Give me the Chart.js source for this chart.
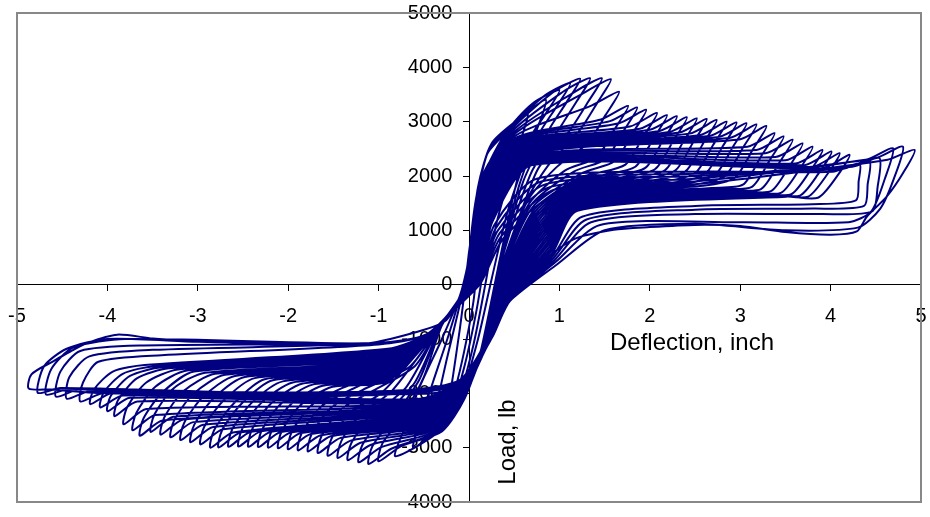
<!DOCTYPE html>
<html lang="en">
<head>
<meta charset="UTF-8">
<title>Load vs Deflection</title>
<script src="https://cdn.jsdelivr.net/npm/chart.js"></script>
<style>
  body { margin: 0; background: #fff; }
  canvas { display: block; }
</style>
</head>
<body>
<canvas id="myChart" width="930" height="517"></canvas>
<script>
// readings per cycle, [deflection (inch), load (lb)]
const cycleS1 = [[0,0],[0.05,1100],[0.15,2000],[0.25,2300],[0.2,1700],[0.12,800],[0.05,-300],[-0.05,-1200],[-0.15,-1900],[-0.22,-2200],[-0.17,-1600],[-0.1,-800],[-0.03,100]];
const cycleS2 = [[0.0,400],[0.08,1500],[0.2,2400],[0.35,2700],[0.45,2850],[0.38,2300],[0.28,1500],[0.18,500],[0.08,-500],[-0.05,-1500],[-0.18,-2200],[-0.32,-2550],[-0.42,-2700],[-0.35,-2150],[-0.25,-1400],[-0.12,-500],[-0.03,200]];
const cycleS3 = [[0.0,600],[0.1,1700],[0.22,2500],[0.45,2900],[0.65,3150],[0.56,2600],[0.45,2000],[0.3,1100],[0.18,0],[0.05,-1100],[-0.1,-2000],[-0.28,-2550],[-0.48,-2850],[-0.62,-3000],[-0.53,-2450],[-0.4,-1800],[-0.22,-900],[-0.08,-100]];
const cycleS4 = [[0.0,500],[0.1,1800],[0.25,2600],[0.55,3050],[0.85,3400],[0.75,2850],[0.6,2200],[0.42,1300],[0.25,100],[0.1,-1000],[-0.08,-2000],[-0.3,-2650],[-0.6,-3000],[-0.82,-3150],[-0.7,-2600],[-0.55,-1900],[-0.3,-1000],[-0.1,-200]];

const cycle01 = [[-0.02,300],[0.10,1750],[0.40,2780],[0.70,3330],[1.00,3580],[0.85,3150],[0.65,2630],[0.5,1700],[0.32,300],
  [0.12,-1300],[-0.05,-2100],[-0.30,-2700],[-0.75,-2970],[-1.00,-3250],[-0.96,-2930],[-0.75,-2450],[-0.5,-1700],[-0.30,-750],[-0.05,-100]];
const cycle02 = [[-0.02,290],[0.11,1750],[0.41,2770],[0.82,3460],[1.12,3710],[0.97,3280],[0.77,2760],[0.55,1800],[0.32,280],
  [0.12,-1290],[-0.05,-2090],[-0.31,-2680],[-0.86,-3020],[-1.11,-3300],[-1.07,-2980],[-0.86,-2500],[-0.55,-1750],[-0.31,-755],[-0.05,-110]];
const cycle03 = [[-0.01,285],[0.12,1720],[0.42,2760],[0.93,3540],[1.23,3790],[1.08,3360],[0.88,2840],[0.6,1900],[0.33,265],
  [0.13,-1275],[-0.05,-2080],[-0.32,-2670],[-0.97,-2990],[-1.22,-3270],[-1.18,-2950],[-0.97,-2470],[-0.6,-1800],[-0.31,-760],[-0.05,-115]];
const cycle04 = [[-0.01,280],[0.12,1700],[0.43,2740],[1.04,3550],[1.34,3800],[1.19,3370],[0.99,2850],[0.7,2100],[0.5,1200],[0.33,245],
  [0.13,-1265],[-0.05,-2070],[-0.33,-2650],[-1.09,-2950],[-1.34,-3230],[-1.30,-2910],[-1.09,-2430],[-0.7,-1900],[-0.32,-765],[-0.06,-125]];
const cycle05 = [[0.0,270],[0.13,1680],[0.44,2720],[1.17,3550],[1.47,3800],[1.32,3370],[1.12,2850],[0.77,2150],[0.6,1450],[0.34,225],
  [0.14,-1255],[-0.05,-2060],[-0.34,-2630],[-1.2,-2910],[-1.45,-3190],[-1.41,-2870],[-1.2,-2390],[-0.85,-1950],[-0.32,-770],[-0.06,-130]];
const cycle06 = [[0.0,265],[0.13,1660],[0.45,2700],[1.27,3530],[1.57,3780],[1.42,3350],[1.22,2830],[0.87,2180],[0.62,1500],[0.34,210],
  [0.14,-1240],[-0.06,-2050],[-0.35,-2610],[-1.31,-2870],[-1.56,-3150],[-1.52,-2830],[-1.31,-2350],[-0.96,-1980],[-0.33,-775],[-0.06,-140]];
const cycle07 = [[0.0,260],[0.14,1640],[0.46,2680],[1.36,3300],[1.66,3550],[1.51,3120],[1.31,2600],[0.96,2150],[0.64,1520],[0.35,190],
  [0.15,-1230],[-0.06,-2040],[-0.36,-2590],[-1.42,-2820],[-1.67,-3100],[-1.63,-2780],[-1.42,-2300],[-1.07,-1960],[-0.6,-1500],[-0.33,-780],[-0.06,-150]];
const cycle08 = [[0.01,250],[0.14,1620],[0.47,2660],[1.46,3040],[1.76,3290],[1.61,2860],[1.41,2340],[1.06,2100],[0.66,1480],[0.35,170],
  [0.15,-1220],[-0.06,-2030],[-0.37,-2570],[-1.53,-2790],[-1.78,-3070],[-1.74,-2750],[-1.53,-2270],[-1.18,-1940],[-0.65,-1500],[-0.34,-785],[-0.06,-155]];
const cycle09 = [[0.01,245],[0.15,1600],[0.48,2640],[1.56,3010],[1.86,3260],[1.71,2830],[1.51,2310],[1.16,2080],[0.68,1450],[0.36,155],
  [0.16,-1205],[-0.06,-2020],[-0.38,-2550],[-1.64,-2770],[-1.89,-3050],[-1.85,-2730],[-1.64,-2250],[-1.29,-1920],[-0.7,-1480],[-0.34,-790],[-0.06,-165]];
const cycle10 = [[0.02,235],[0.15,1580],[0.49,2620],[1.66,2970],[1.96,3220],[1.81,2790],[1.61,2270],[1.26,2060],[0.7,1420],[0.36,135],
  [0.16,-1195],[-0.06,-2010],[-0.39,-2530],[-1.75,-2750],[-2.0,-3030],[-1.96,-2710],[-1.75,-2230],[-1.4,-1900],[-0.75,-1460],[-0.35,-795],[-0.07,-170]];
const cycle11 = [[0.02,230],[0.16,1560],[0.5,2600],[1.78,2910],[2.08,3160],[1.93,2730],[1.73,2210],[1.38,2040],[1.2,1960],[0.72,1380],[0.37,115],
  [0.17,-1185],[-0.06,-2000],[-0.4,-2510],[-1.86,-2730],[-2.11,-3010],[-2.07,-2690],[-1.86,-2210],[-1.51,-1880],[-0.9,-1780],[-0.35,-800],[-0.07,-180]];
const cycle12 = [[0.02,225],[0.16,1540],[0.51,2580],[1.89,2870],[2.19,3120],[2.04,2690],[1.84,2170],[1.49,2020],[1.2,1930],[0.73,1340],[0.37,100],
  [0.17,-1170],[-0.06,-1990],[-0.41,-2490],[-1.97,-2720],[-2.22,-3000],[-2.18,-2680],[-1.97,-2200],[-1.62,-1860],[-0.9,-1750],[-0.36,-805],[-0.07,-190]];
const cycle13 = [[0.03,215],[0.17,1520],[0.52,2560],[2.0,2850],[2.30,3100],[2.15,2670],[1.95,2150],[1.6,2000],[1.2,1900],[0.74,1300],[0.38,80],
  [0.18,-1160],[-0.06,-1980],[-0.42,-2470],[-2.08,-2710],[-2.33,-2990],[-2.29,-2670],[-2.08,-2190],[-1.73,-1840],[-0.9,-1720],[-0.36,-810],[-0.07,-195]];
const cycle14 = [[0.03,210],[0.17,1500],[0.53,2540],[2.11,2830],[2.41,3080],[2.26,2650],[2.06,2130],[1.71,1980],[1.2,1870],[0.75,1260],[0.38,60],
  [0.18,-1150],[-0.06,-1970],[-0.43,-2450],[-2.19,-2705],[-2.44,-2985],[-2.40,-2665],[-2.19,-2185],[-1.84,-1820],[-0.9,-1690],[-0.37,-815],[-0.07,-205]];
const cycle15 = [[0.04,200],[0.18,1480],[0.54,2520],[2.22,2810],[2.52,3060],[2.37,2630],[2.17,2110],[1.82,1960],[1.2,1840],[0.76,1220],[0.39,45],
  [0.19,-1135],[-0.06,-1960],[-0.44,-2430],[-2.3,-2700],[-2.55,-2980],[-2.51,-2660],[-2.3,-2180],[-1.95,-1800],[-0.9,-1660],[-0.37,-820],[-0.07,-210]];
const cycle16 = [[0.04,195],[0.18,1460],[0.55,2500],[2.33,2800],[2.63,3050],[2.48,2620],[2.28,2100],[1.93,1940],[1.2,1810],[0.77,1180],[0.39,25],
  [0.19,-1125],[-0.07,-1950],[-0.45,-2410],[-2.41,-2705],[-2.66,-2985],[-2.62,-2665],[-2.41,-2185],[-2.06,-1780],[-0.9,-1630],[-0.38,-825],[-0.08,-220]];
const cycle17 = [[0.04,190],[0.19,1440],[0.56,2480],[2.44,2780],[2.74,3030],[2.59,2600],[2.39,2080],[2.04,1920],[1.2,1780],[0.78,1140],[0.40,5],
  [0.20,-1115],[-0.07,-1940],[-0.46,-2390],[-2.52,-2715],[-2.77,-2995],[-2.73,-2675],[-2.52,-2195],[-2.17,-1760],[-0.9,-1600],[-0.38,-830],[-0.08,-230]];
const cycle18 = [[0.05,180],[0.19,1420],[0.57,2460],[2.55,2750],[2.85,3000],[2.7,2570],[2.5,2050],[2.15,1900],[1.2,1750],[0.79,1100],[0.40,-10],
  [0.20,-1100],[-0.07,-1930],[-0.47,-2370],[-2.61,-2720],[-2.86,-3000],[-2.82,-2680],[-2.61,-2200],[-2.26,-1740],[-0.9,-1570],[-0.39,-835],[-0.08,-235]];
const cycle19 = [[0.05,175],[0.2,1400],[0.58,2440],[2.66,2735],[2.96,2985],[2.81,2555],[2.61,2035],[2.26,1880],[1.2,1720],[0.8,1060],[0.40,-30],
  [0.20,-1090],[-0.07,-1920],[-0.48,-2350],[-2.72,-2660],[-2.97,-2940],[-2.93,-2620],[-2.72,-2140],[-2.37,-1720],[-0.9,-1540],[-0.39,-840],[-0.08,-245]];
const cycle20 = [[0.06,165],[0.2,1380],[0.59,2420],[2.77,2720],[3.07,2970],[2.92,2540],[2.72,2020],[2.37,1860],[1.2,1690],[0.81,1020],[0.41,-50],
  [0.21,-1080],[-0.07,-1910],[-0.49,-2330],[-2.83,-2620],[-3.08,-2900],[-3.04,-2580],[-2.83,-2100],[-2.48,-1700],[-0.9,-1510],[-0.40,-845],[-0.08,-250]];
const cycle21 = [[0.06,160],[0.21,1360],[0.6,2400],[2.88,2700],[3.18,2950],[3.03,2520],[2.83,2000],[2.48,1840],[1.2,1660],[0.82,980],[0.41,-65],
  [0.21,-1065],[-0.07,-1900],[-0.5,-2310],[-2.94,-2580],[-3.19,-2860],[-3.15,-2540],[-2.94,-2060],[-2.59,-1680],[-0.9,-1480],[-0.40,-850],[-0.08,-260]];
const cycle22 = [[0.06,155],[0.21,1340],[0.61,2380],[2.99,2670],[3.29,2920],[3.14,2490],[2.94,1970],[2.59,1820],[1.2,1630],[0.83,940],[0.42,-85],
  [0.22,-1055],[-0.07,-1890],[-0.51,-2290],[-3.05,-2530],[-3.30,-2810],[-3.26,-2490],[-3.05,-2010],[-2.7,-1660],[-0.9,-1450],[-0.41,-855],[-0.09,-270]];
const cycle23 = [[0.07,145],[0.22,1320],[0.62,2360],[3.08,2540],[3.38,2790],[3.23,2360],[3.03,1840],[2.68,1780],[1.2,1600],[0.84,900],[0.42,-105],
  [0.22,-1045],[-0.07,-1880],[-0.52,-2270],[-3.16,-2480],[-3.41,-2760],[-3.37,-2440],[-3.16,-1960],[-2.81,-1640],[-0.9,-1420],[-0.41,-860],[-0.09,-275]];
const cycle24 = [[0.07,140],[0.22,1300],[0.63,2340],[3.18,2480],[3.48,2730],[3.33,2300],[3.13,1800],[2.78,1760],[1.2,1570],[0.85,860],[0.43,-120],
  [0.23,-1030],[-0.07,-1870],[-0.53,-2250],[-3.27,-2430],[-3.52,-2710],[-3.48,-2390],[-3.27,-1910],[-2.92,-1620],[-0.9,-1390],[-0.42,-865],[-0.09,-285]];
const cycle25 = [[0.08,130],[0.23,1280],[0.64,2320],[3.28,2420],[3.58,2670],[3.43,2240],[3.23,1760],[2.88,1740],[1.2,1540],[0.86,820],[0.43,-140],
  [0.23,-1020],[-0.07,-1860],[-0.54,-2230],[-3.39,-2500],[-3.64,-2780],[-3.60,-2460],[-3.39,-1980],[-3.04,-1600],[-0.9,-1360],[-0.42,-870],[-0.09,-290]];
const cycle26 = [[0.08,125],[0.23,1260],[0.65,2300],[3.39,2350],[3.69,2600],[3.54,2170],[3.34,1720],[2.99,1720],[1.2,1510],[0.87,780],[0.44,-160],
  [0.24,-1010],[-0.08,-1850],[-0.55,-2210],[-3.47,-2400],[-3.72,-2680],[-3.68,-2360],[-3.47,-1880],[-3.12,-1580],[-0.9,-1330],[-0.43,-875],[-0.09,-300]];
const cycle27 = [[0.08,120],[0.24,1240],[0.66,2280],[3.5,2290],[3.80,2540],[3.65,2110],[3.45,1690],[3.1,1700],[1.2,1480],[0.88,740],[0.44,-175],
  [0.24,-995],[-0.08,-1840],[-0.56,-2190],[-3.57,-2290],[-3.82,-2570],[-3.78,-2250],[-3.57,-1800],[-3.22,-1560],[-0.9,-1300],[-0.43,-880],[-0.1,-310]];
const cycle28 = [[0.09,110],[0.24,1220],[0.67,2260],[3.61,2230],[3.91,2480],[3.76,2060],[3.56,1660],[3.21,1680],[1.2,1450],[0.89,700],[0.45,-195],
  [0.25,-985],[-0.08,-1830],[-0.57,-2170],[-3.67,-2150],[-3.92,-2420],[-3.88,-2120],[-3.67,-1720],[-3.32,-1540],[-0.9,-1270],[-0.44,-885],[-0.1,-315]];
const cycle29 = [[0.09,105],[0.25,1200],[0.68,2240],[3.71,2200],[4.01,2450],[3.86,2030],[3.66,1640],[3.31,1660],[1.2,1420],[0.9,660],[0.45,-215],
  [0.25,-975],[-0.08,-1820],[-0.58,-2150],[-3.75,-2080],[-4.0,-2330],[-3.96,-2040],[-3.75,-1680],[-3.4,-1520],[-0.9,-1240],[-0.44,-890],[-0.1,-325]];
const cycle30 = [[0.10,95],[0.25,1180],[0.69,2220],[3.8,2170],[4.10,2420],[3.95,2000],[3.75,1620],[3.4,1640],[1.2,1390],[0.91,620],[0.46,-230],
  [0.26,-960],[-0.08,-1810],[-0.59,-2130],[-3.83,-2040],[-4.08,-2260],[-4.04,-1980],[-3.83,-1640],[-3.48,-1500],[-0.9,-1210],[-0.45,-895],[-0.1,-330]];
const cycle31 = [[0.10,90],[0.26,1160],[0.7,2200],[3.91,2140],[4.21,2390],[4.06,1970],[3.86,1600],[3.51,1620],[1.2,1360],[0.92,580],[0.46,-250],
  [0.26,-950],[-0.08,-1800],[-0.6,-2110],[-3.94,-1990],[-4.19,-2200],[-4.15,-1930],[-3.94,-1600],[-3.59,-1480],[-0.9,-1180],[-0.45,-900],[-0.1,-340]];

const cycleO1 = [[0.10,80],[0.28,1100],[0.75,1950],[2.5,2080],[4.02,2080],[4.32,2230],[4.31,1900],[4.28,1550],[3.8,1480],[2.5,1450],[1.25,1250],[0.93,540],[0.46,-260],
  [0.26,-940],[-0.08,-1790],[-0.62,-2000],[-2.5,-2060],[-4.05,-2000],[-4.30,-2150],[-4.27,-1800],[-4.1,-1420],[-3.4,-1300],[-1.0,-1100],[-0.46,-905],[-0.1,-345]];
const cycleO2 = [[0.11,70],[0.3,1050],[0.8,1900],[2.5,2040],[4.13,2130],[4.43,2280],[4.41,1850],[4.37,1450],[3.8,1400],[2.5,1380],[1.3,1200],[0.94,500],[0.46,-275],
  [0.26,-930],[-0.09,-1780],[-0.65,-1980],[-2.5,-2040],[-4.2,-1960],[-4.45,-2100],[-4.42,-1700],[-4.2,-1320],[-3.5,-1200],[-1.0,-1080],[-0.46,-910],[-0.1,-350]];
const cycleO3 = [[0.11,60],[0.32,1000],[0.85,1850],[2.5,2000],[4.24,2170],[4.54,2330],[4.52,1800],[4.46,1350],[3.9,1300],[2.5,1300],[1.35,1150],[0.95,460],[0.45,-290],
  [0.25,-920],[-0.09,-1770],[-0.7,-1960],[-2.5,-2020],[-4.32,-1930],[-4.57,-2060],[-4.52,-1600],[-4.3,-1220],[-3.6,-1120],[-1.0,-1070],[-0.47,-915],[-0.1,-355]];
const cycleO4 = [[0.12,50],[0.34,950],[0.9,1800],[2.5,1950],[4.39,2300],[4.69,2510],[4.6,1950],[4.45,1350],[4.2,1150],[3.0,1150],[1.45,1100],[0.96,420],[0.45,-305],
  [0.25,-910],[-0.1,-1760],[-0.75,-1950],[-2.5,-2000],[-4.43,-1920],[-4.68,-2020],[-4.62,-1550],[-4.38,-1160],[-3.8,-1000],[-1.0,-1080],[-0.47,-920],[-0.1,-360]];
const cycleO5 = [[0.12,40],[0.36,900],[0.95,1750],[2.5,1900],[4.5,2330],[4.80,2540],[4.7,1950],[4.55,1400],[4.3,1050],[3.5,1000],[2.5,1120],[1.5,1000],[0.98,380],[0.44,-320],
  [0.24,-900],[-0.1,-1750],[-0.8,-1950],[-2.5,-1980],[-4.52,-1900],[-4.77,-1990],[-4.7,-1500],[-4.45,-1180],[-4.0,-1000],[-3.0,-1050],[-1.0,-1090],[-0.48,-925],[-0.1,-365]];
const cycleO6 = [[0.13,30],[0.38,850],[1.0,1700],[2.5,1850],[4.63,2300],[4.93,2480],[4.8,2050],[4.62,1620],[4.4,1250],[4.29,980],[4.0,920],[3.5,970],[3.0,1080],[2.5,1100],[2.0,1060],[1.6,1010],[1.15,830],[0.75,330],[0.42,-280],
  [0.2,-900],[0.0,-1700],[-0.4,-2000],[-2.5,-1980],[-4.0,-2000],[-4.62,-1930],[-4.87,-1910],[-4.84,-1650],[-4.6,-1410],[-4.41,-1230],[-4.22,-1070],[-3.89,-920],[-3.5,-990],[-3.0,-1040],[-2.0,-1100],[-1.2,-1100],[-0.6,-880],[-0.25,-650],[-0.04,0]];

const cycles = [cycleS1, cycleS2, cycleS3, cycleS4,
  cycle01, cycle02, cycle03, cycle04, cycle05, cycle06, cycle07, cycle08, cycle09, cycle10,
  cycle11, cycle12, cycle13, cycle14, cycle15, cycle16, cycle17, cycle18, cycle19, cycle20,
  cycle21, cycle22, cycle23, cycle24, cycle25, cycle26, cycle27, cycle28, cycle29, cycle30, cycle31,
  cycleO1, cycleO2, cycleO3, cycleO4, cycleO5, cycleO6];

const xTitle = 'Deflection, inch';
const yTitle = 'Load, lb';

var points = [];
cycles.forEach(function(c) {
  c.forEach(function(p) { points.push({x: p[0], y: p[1]}); });
});

var fontName = '"Liberation Sans", Arial, sans-serif';

// gray frame round the plot area and the two axis titles
var frame = {
  id: 'frame',
  beforeDatasetsDraw: function(chart) {
    var a = chart.chartArea, ctx = chart.ctx;
    ctx.save();
    ctx.strokeStyle = '#888';
    ctx.lineWidth = 2;
    ctx.strokeRect(a.left, a.top, a.right - a.left, a.bottom - a.top);
    ctx.restore();
  },
  afterDraw: function(chart) {
    var ctx = chart.ctx;
    ctx.save();
    ctx.fillStyle = '#000';
    ctx.font = '24px ' + fontName;
    ctx.textAlign = 'center';
    ctx.textBaseline = 'middle';
    ctx.fillText(xTitle, 692, 343);
    ctx.translate(508, 442);
    ctx.rotate(-Math.PI / 2);
    ctx.fillText(yTitle, 0, 0);
    ctx.restore();
  }
};

var ctx = document.getElementById('myChart').getContext('2d');
var myChart = new Chart(ctx, {
  type: 'scatter',
  data: {
    datasets: [{
      data: points,
      showLine: true,
      borderColor: '#000080',
      borderWidth: 2,
      pointRadius: 0,
      tension: 0.25,
      fill: false
    }]
  },
  options: {
    responsive: false,
    animation: false,
    layout: { padding: { left: 17, right: 9, top: 13, bottom: 15 } },
    plugins: { legend: { display: false }, tooltip: { enabled: false } },
    scales: {
      x: {
        type: 'linear',
        min: -5, max: 5,
        position: { y: 0 },
        afterFit: function(s) { s.height = 0; s.paddingLeft = 0; s.paddingRight = 0; },
        grid: { drawOnChartArea: false, drawTicks: true, tickLength: 6, color: '#000' },
        border: { color: '#000', width: 1 },
        ticks: { stepSize: 1, padding: 14, color: '#000', font: { family: fontName, size: 20 } }
      },
      y: {
        type: 'linear',
        min: -4000, max: 5000,
        position: { x: 0 },
        afterFit: function(s) { s.width = 0; s.paddingTop = 0; s.paddingBottom = 0; },
        grid: { drawOnChartArea: false, drawTicks: true, tickLength: 6, color: '#000' },
        border: { color: '#000', width: 1 },
        ticks: {
          stepSize: 1000, color: '#000', font: { family: fontName, size: 20 },
          callback: function(v) { return String(v) + '   '; }
        }
      }
    }
  },
  plugins: [frame]
});
</script>
</body>
</html>
